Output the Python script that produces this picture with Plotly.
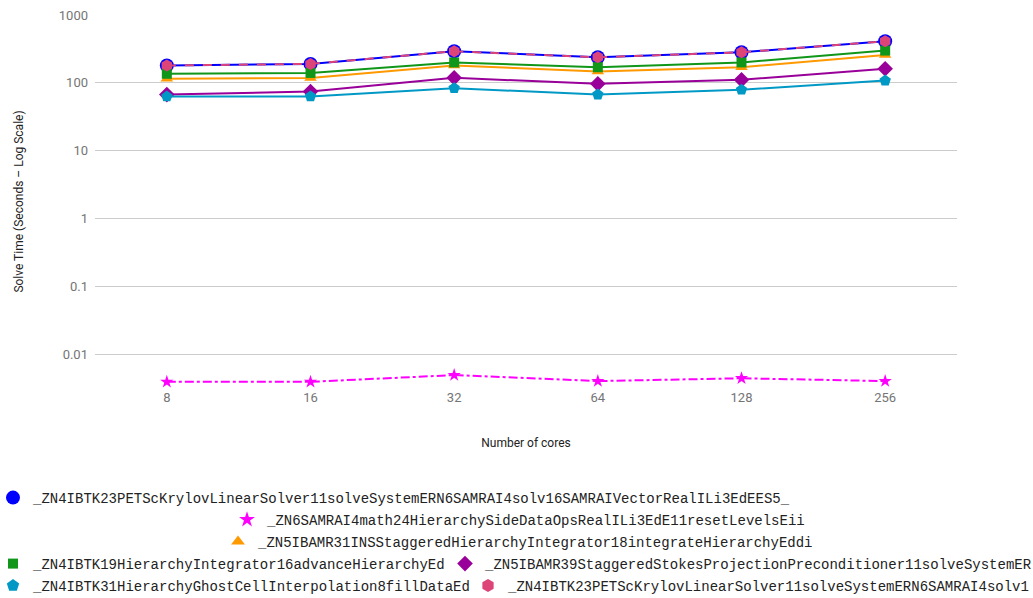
import plotly.graph_objects as go

# Core counts on the x axis (categorical, evenly spaced)
cores = ["8", "16", "32", "64", "128", "256"]

# Solve times in seconds for each profiled routine
petsc_solve = [180, 190, 292, 238, 282, 410]
side_data_reset = [0.0039, 0.0039, 0.0049, 0.0040, 0.0044, 0.0040]
ins_integrate = [115, 118, 180, 147, 170, 258]
advance_hierarchy = [136, 140, 200, 170, 200, 299]
stokes_precond = [67, 74.5, 118.6, 96.6, 110.6, 161]
ghost_fill = [62.8, 63, 83.4, 67, 79, 108]
petsc_solve_2 = [180, 190, 292, 238, 282, 410]

names = [
    "_ZN4IBTK23PETScKrylovLinearSolver11solveSystemERN6SAMRAI4solv16SAMRAIVectorRealILi3EdEES5_",
    "_ZN6SAMRAI4math24HierarchySideDataOpsRealILi3EdE11resetLevelsEii",
    "_ZN5IBAMR31INSStaggeredHierarchyIntegrator18integrateHierarchyEddi",
    "_ZN4IBTK19HierarchyIntegrator16advanceHierarchyEd",
    "_ZN5IBAMR39StaggeredStokesProjectionPreconditioner11solveSystemER",
    "_ZN4IBTK31HierarchyGhostCellInterpolation8fillDataEd",
    "_ZN4IBTK23PETScKrylovLinearSolver11solveSystemERN6SAMRAI4solv1",
]

series = [petsc_solve, side_data_reset, ins_integrate, advance_hierarchy,
          stokes_precond, ghost_fill, petsc_solve_2]
colors = ["#0000ff", "#ff00ff", "#ff9900", "#109618", "#990099", "#0099c6", "#dd4477"]
symbols = ["circle", "star", "triangle-up", "square", "diamond", "pentagon", "hexagon"]
sizes = [14, 10, 11, 10, 12, 12, 12]
legend_sizes = [14, 12, 12, 10, 12, 13, 13]
dashes = ["solid", "dashdot", "solid", "solid", "solid", "solid", "dash"]

# Legend entry positions (marker centre, in pixels of the page)
W, H = 1033, 598
ML, MR, MT, MB = 95, 76, 15, 210
PW, PH = W - ML - MR, H - MT - MB
legend_px = [(13, 498), (247, 520), (238, 542), (13, 564), (465, 564), (13, 586), (488, 586)]

fig = go.Figure()

# Data lines
for i, vals in enumerate(series):
    fig.add_trace(go.Scatter(
        x=cores, y=vals, name=names[i], mode="lines+markers",
        line=dict(color=colors[i], width=2, dash=dashes[i]),
        marker=dict(symbol=symbols[i], size=sizes[i], color=colors[i]),
        showlegend=False,
    ))

# Marker-only legend entries, one legend box per entry
legend_layouts = {}
for i, nm in enumerate(names):
    lid = "legend" if i == 0 else f"legend{i + 1}"
    fig.add_trace(go.Scatter(
        x=[None], y=[None], name=nm, mode="markers",
        marker=dict(symbol=symbols[i], size=legend_sizes[i], color=colors[i]),
        legend=lid, showlegend=True, hoverinfo="skip",
    ))
    mx, my = legend_px[i]
    legend_layouts[lid] = dict(
        x=(mx - 20 - ML) / PW, y=(H - MB - my) / PH,
        xanchor="left", yanchor="middle",
        font=dict(family="Liberation Mono, Courier New, monospace", size=14, color="#222222"),
        bgcolor="rgba(0,0,0,0)", borderwidth=0, itemsizing="trace",
    )

fig.update_layout(
    width=W, height=H,
    margin=dict(l=ML, r=MR, t=MT, b=MB, autoexpand=False),
    paper_bgcolor="white", plot_bgcolor="white",
    font=dict(family="Roboto, Arial, sans-serif", size=12, color="#222222"),
    showlegend=True,
    **legend_layouts,
)

fig.update_xaxes(
    type="category", range=[-0.5, 5.5], showgrid=False, zeroline=False,
    showline=False, ticks="", tickfont=dict(size=13, color="#757575"),
    title=dict(text="Number of cores", font=dict(size=12, color="#222222"), standoff=34),
)
fig.update_yaxes(
    type="log", range=[-2.5, 3],
    tickvals=[0.01, 0.1, 1, 10, 100, 1000],
    ticktext=["0.01", "0.1", "1", "10", "100", "1000"],
    showgrid=True, gridcolor="#cccccc", gridwidth=1, zeroline=False, showline=False,
    ticks="", ticklabelstandoff=6, tickfont=dict(size=13, color="#757575"),
    title=dict(text="Solve Time (Seconds \u2013 Log Scale)", font=dict(size=12, color="#222222"), standoff=32),
)

fig.write_html("out.html")
